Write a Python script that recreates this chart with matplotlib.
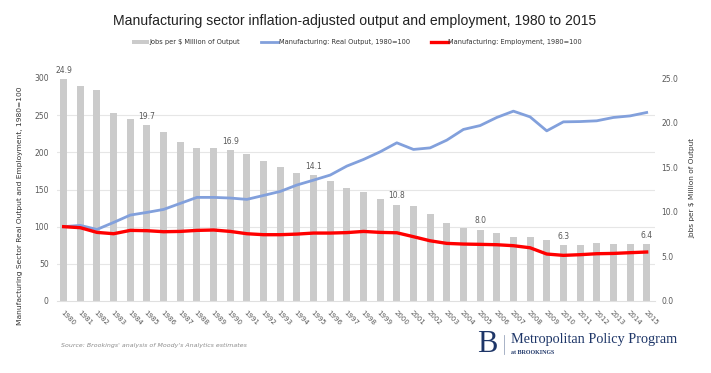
"""
Manufacturing output vs employment, 1980-2015 (Brookings chart remake).
"""

import numpy as np
import matplotlib
matplotlib.use("Agg")
import matplotlib.pyplot as plt
from matplotlib.ticker import MultipleLocator, FormatStrFormatter
from matplotlib.patches import Patch
from matplotlib.lines import Line2D

years = list(range(1980, 2016))

# jobs per $ million of output (right axis)
jobs_per_million = [24.9, 24.1, 23.7, 21.1, 20.4, 19.7, 18.9, 17.8, 17.1, 17.1,
                    16.9, 16.5, 15.7, 15.0, 14.4, 14.1, 13.5, 12.7, 12.2, 11.4,
                    10.8, 10.6, 9.7, 8.8, 8.2, 8.0, 7.6, 7.2, 7.15, 6.8,
                    6.3, 6.3, 6.5, 6.4, 6.4, 6.4]

# index 1980=100 (left axis)
real_output = [100, 101.7, 96.3, 105.7, 115.6, 119.2, 123.2, 131.3, 139.4, 139.4,
               138.5, 136.7, 142.0, 147.4, 156.0, 162.6, 169.4, 181.5, 190.4, 200.7,
               212.8, 203.9, 206.0, 216.4, 230.8, 236.0, 246.9, 255.4, 247.7, 228.9,
               241.0, 241.4, 242.4, 246.9, 249.0, 253.6]
employment = [100, 98.6, 92.3, 90.5, 95.0, 94.6, 93.2, 93.6, 95.0, 95.5,
              93.6, 90.5, 89.2, 89.2, 90.0, 91.4, 91.4, 92.0, 93.6, 92.3,
              91.8, 86.5, 81.0, 77.5, 76.6, 76.2, 75.7, 74.4, 71.6, 63.2,
              61.4, 62.3, 63.6, 64.0, 65.0, 65.9]

labelled_years = [1980, 1985, 1990, 1995, 2000, 2005, 2010, 2015]

bar_color = "#cbcbcb"
blue = "#82a0dc"
red = "#ff0000"
tick_color = "#595959"

fig = plt.figure(figsize=(7.11, 3.73), dpi=100)
ax_bars = fig.add_axes([57 / 711, 1 - 301 / 373, 598 / 711, 223 / 373])
ax_lines = ax_bars.twinx()

x = np.arange(len(years))

# bars on the $-scale axis
ax_bars.bar(x, jobs_per_million, width=0.42, color=bar_color, zorder=2)
ax_bars.set_ylim(0, 25)
ax_bars.yaxis.tick_right()
ax_bars.yaxis.set_major_locator(MultipleLocator(5))
ax_bars.yaxis.set_major_formatter(FormatStrFormatter("%.1f"))
# left-scale gridlines (every 50 index points) drawn behind the bars
ax_bars.yaxis.set_minor_locator(MultipleLocator(50 / 12))
ax_bars.grid(axis="y", which="minor", color="#e6e6e6", linewidth=0.8, zorder=0)
ax_bars.tick_params(axis="y", which="both", length=0, labelsize=5.5,
                    labelcolor=tick_color, pad=4.5)

for yr in labelled_years:
    i = years.index(yr)
    ax_bars.annotate(f"{jobs_per_million[i]:.1f}", (x[i], jobs_per_million[i]),
                     xytext=(0, 3), textcoords="offset points", ha="center",
                     va="bottom", fontsize=5.5, color=tick_color,
                     annotation_clip=False)

# index lines on the twin axis, moved to the left side
ax_lines.plot(x, real_output, color=blue, linewidth=2.0, solid_joinstyle="round")
ax_lines.plot(x, employment, color=red, linewidth=2.4, solid_joinstyle="round")
ax_lines.set_ylim(0, 300)
ax_lines.yaxis.tick_left()
ax_lines.yaxis.set_major_locator(MultipleLocator(50))
ax_lines.tick_params(axis="y", length=0, labelsize=5.5, labelcolor=tick_color, pad=6)

ax_bars.set_xlim(-0.4, 35.5)
ax_bars.set_xticks(x)
ax_bars.set_xticklabels([str(y) for y in years], rotation=-45, ha="left",
                        rotation_mode="anchor", fontsize=5, color=tick_color)
ax_bars.tick_params(axis="x", length=0, pad=6)

for a in (ax_bars, ax_lines):
    for s in a.spines.values():
        s.set_visible(False)
ax_bars.spines["bottom"].set_visible(True)
ax_bars.spines["bottom"].set_color("#e0e0e0")

# axis titles
fig.text(20 / 711, 1 - 206 / 373, "Manufacturing Sector Real Output and Employment, 1980=100",
         rotation=90, ha="center", va="center", fontsize=5.4, color="#333333")
fig.text(692 / 711, 1 - 188 / 373, "Jobs per $ Million of Output",
         rotation=90, ha="center", va="center", fontsize=5.3, color="#333333")

fig.text(355 / 711, 1 - 21 / 373, "Manufacturing sector inflation-adjusted output and employment, 1980 to 2015",
         ha="center", va="center", fontsize=10.1, family="Liberation Sans", color="#222222")

handles = [Patch(facecolor=bar_color, edgecolor="none"),
           Line2D([0], [0], color=blue, linewidth=2.0),
           Line2D([0], [0], color=red, linewidth=2.4)]
labels = ["Jobs per $ Million of Output",
          "Manufacturing: Real Output, 1980=100",
          "Manufacturing: Employment, 1980=100"]
fig.legend(handles, labels, loc="center", bbox_to_anchor=(357 / 711, 1 - 42 / 373), ncol=3,
           frameon=False, fontsize=4.8, handlelength=2.5, handleheight=0.6,
           columnspacing=3.2, handletextpad=0.1, labelcolor="#333333")

fig.text(61 / 711, 1 - 346 / 373, "Source: Brookings' analysis of Moody's Analytics estimates",
         ha="left", va="center", fontsize=4.5, style="italic", color="#8c8c8c")

# Brookings logo text
navy = "#1e3668"
fig.text(487 / 711, 1 - 345 / 373, "B", ha="center", va="center", fontsize=22,
         family="Liberation Serif", color=navy)
fig.add_artist(Line2D([504 / 711, 504 / 711], [1 - 335 / 373, 1 - 354 / 373],
                      transform=fig.transFigure, color="#9aa6bd", linewidth=0.6))
fig.text(511 / 711, 1 - 340 / 373, "Metropolitan Policy Program", ha="left", va="center",
         fontsize=10.3, family="Liberation Serif", color=navy)
fig.text(511 / 711, 1 - 352 / 373, "at BROOKINGS", ha="left", va="center",
         fontsize=4.3, family="Liberation Serif", color=navy, weight="bold")

fig.savefig("out.png", dpi=100, facecolor="white")
